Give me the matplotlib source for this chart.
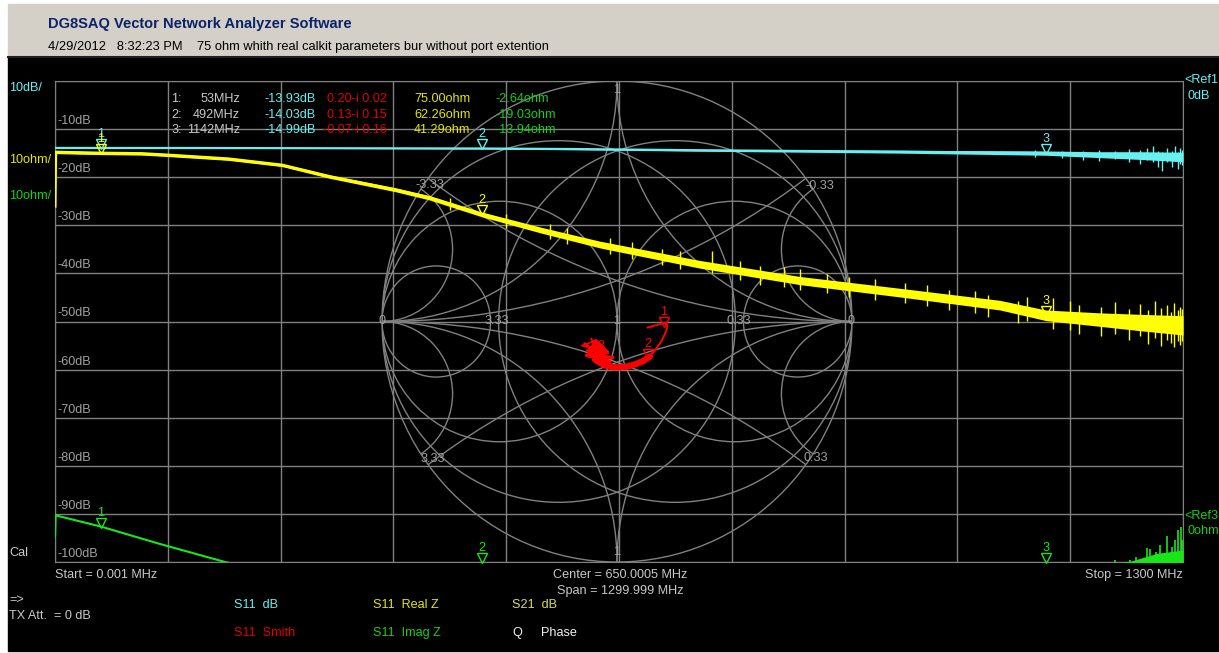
import numpy as np
import matplotlib.pyplot as plt
from matplotlib.patches import Circle, Rectangle
from matplotlib.transforms import offset_copy

plt.rcParams['font.family'] = ['Liberation Sans', 'DejaVu Sans']

W, H = 1219, 653

# sweep
f_start, f_stop = 0.001, 1300

# S11 magnitude (dB), with noise band half-width
s11_f = [0.001, 53, 150, 300, 492, 600, 743, 860, 974, 1089, 1142, 1200, 1250, 1300]
s11_db = [-13.92, -13.93, -13.93, -13.97, -14.03, -14.15, -14.4, -14.55, -14.7, -14.9, -14.99, -15.3, -15.5, -15.8]
s11_spread = [0, 0, 0, 0.05, 0.12, 0.15, 0.2, 0.25, 0.3, 0.4, 0.45, 0.6, 0.8, 1.0]
s11_spike_f = [1130, 1160, 1185, 1203, 1222, 1238, 1250, 1258, 1265, 1271, 1276, 1282, 1287, 1291, 1294, 1297, 1299]
s11_spike_lo = [-15.9, -16.0, -16.4, -16.6, -16.2, -16.9, -17.3, -16.5, -16.8, -17.8, -18.7, -16.9, -17.9, -16.6, -18.3, -17.2, -17.5]
s11_spike_hi = [-14.4, -14.6, -14.5, -14.3, -14.6, -14.1, -14.4, -13.9, -13.5, -14.6, -14.8, -14.0, -14.5, -13.6, -14.7, -13.9, -14.4]

# S11 real part of Z (ohm)
re_f = [0.001, 0.7, 53, 100, 130, 200, 262, 317, 392, 432, 492, 560, 628, 743, 859, 974, 1089, 1142, 1204, 1250, 1300]
re_z = [64, 75.2, 75.0, 74.9, 74.6, 73.8, 72.5, 70.1, 67.4, 65.7, 62.26, 59.0, 56.0, 51.9, 48.5, 46.0, 43.4, 41.29, 40.4, 39.8, 39.2]
re_spread = [0, 0.3, 0.3, 0.3, 0.3, 0.3, 0.3, 0.35, 0.4, 0.45, 0.5, 0.6, 0.7, 0.8, 0.85, 0.9, 1.0, 1.1, 1.4, 1.7, 2.0]
re_spike_f = [455, 520, 570, 590, 640, 665, 700, 720, 757, 790, 812, 840, 859, 890, 915, 945, 980,
              1005, 1030, 1060, 1075, 1110, 1120, 1150, 1170, 1180, 1205, 1222, 1238, 1250, 1260,
              1268, 1275, 1281, 1286, 1290, 1294, 1297, 1299]
re_spike_lo = [63.2, 59.5, 57.2, 56.2, 54.0, 53.0, 51.8, 51.0, 50.0, 48.6, 47.6, 47.2, 46.6, 45.9, 45.1,
               44.5, 43.8, 43.2, 42.4, 41.8, 41.0, 39.6, 40.1, 38.4, 38.2, 37.5, 36.9, 37.4, 36.2, 36.9,
               35.3, 36.6, 35.0, 36.2, 35.6, 34.8, 35.9, 35.2, 36.0]
re_spike_hi = [65.6, 62.4, 60.3, 59.4, 57.4, 56.6, 55.1, 54.7, 54.7, 52.6, 51.5, 51.3, 51.0, 49.9, 49.2,
               48.8, 48.0, 47.6, 46.6, 46.3, 45.6, 44.3, 45.0, 44.8, 44.2, 43.4, 43.0, 44.1, 42.6, 43.6,
               42.4, 44.2, 42.9, 43.5, 42.0, 43.9, 42.4, 43.0, 42.7]

# S11 imaginary part of Z (ohm)
im_f = [0.001, 0.7, 53, 120, 196, 300, 400, 492, 600, 750, 900, 1050, 1142, 1200, 1240, 1270, 1300]
im_z = [-4.8, -0.3, -2.64, -6.2, -10.0, -14.5, -17.8, -19.03, -19.3, -18.8, -17.3, -15.2, -13.94, -12.6, -12.0, -11.0, -10.5]
im_spread = [0, 0, 0, 0, 0, 0.2, 0.3, 0.4, 0.6, 0.8, 1.0, 1.2, 1.4, 1.8, 2.2, 2.8, 3.0]
im_spike_f = [1222, 1239, 1246, 1259, 1262, 1269, 1274, 1282, 1287, 1291, 1294, 1298, 1299]
im_spike_lo = [-12.5, -13.0, -12.8, -13.5, -13.0, -14.0, -13.2, -14.5, -13.8, -14.2, -15.0, -14.0, -13.6]
im_spike_hi = [-9.6, -9.5, -8.9, -7.1, -7.4, -8.0, -6.5, -4.6, -6.8, -5.4, -3.3, -2.7, -5.4]

# S11 reflection coefficient on the Smith chart
gam_re = [0.13, 0.205, 0.213, 0.212, 0.205, 0.19, 0.165, 0.14, 0.11, 0.077, 0.045, 0.013, -0.02, -0.05, -0.075, -0.094]
gam_im = [-0.025, -0.005, -0.015, -0.03, -0.05, -0.08, -0.115, -0.145, -0.165, -0.178, -0.187, -0.19, -0.19, -0.183, -0.17, -0.158]
gam_tail_re = [-0.094, -0.12, -0.07, -0.14, -0.09, -0.11, -0.05, -0.13, -0.08, -0.10, -0.04, -0.15, -0.09, -0.06, -0.12, -0.08, -0.03, -0.10, -0.13, -0.07, -0.02, -0.09]
gam_tail_im = [-0.158, -0.11, -0.14, -0.09, -0.12, -0.07, -0.16, -0.12, -0.10, -0.14, -0.13, -0.10, -0.08, -0.15, -0.13, -0.11, -0.17, -0.12, -0.14, -0.16, -0.15, -0.13]

# markers
marker_f = [53, 492, 1142]
marker_db = [-13.93, -14.03, -14.99]
marker_gam_re = [0.20, 0.13, -0.07]
marker_gam_im = [-0.02, -0.15, -0.16]
marker_re_z = [75.00, 62.26, 41.29]
marker_im_z = [-2.64, -19.03, -13.94]

smith_values = [0.33, 1, 3.33]

CYAN = '#66f0f0'
YEL = '#ffff00'
YEL_T = '#e6e600'
GRN = '#19e619'
GRN_T = '#16d016'
RED = '#ff0000'
RED_T = '#e00000'
GRID = '#808080'
TXT = '#c8c8c8'
FS = 9.1


def px(x, y):
    return x / W, 1 - y / H


def ftext(x, y, s, color=TXT, **kw):
    kw.setdefault('fontsize', FS)
    fig.text(*px(x, y), s, color=color, va='center', **kw)


fig = plt.figure(figsize=(W / 100, H / 100), dpi=100)
fig.patch.set_facecolor('white')
fig.patches.append(Rectangle(px(8, 57), (W - 8) / W, 53 / H, transform=fig.transFigure,
                             color='#d4d0c8', zorder=-10))
fig.patches.append(Rectangle(px(8, 651), (W - 8) / W, 594 / H, transform=fig.transFigure,
                             color='black', zorder=-10))
fig.add_artist(plt.Line2D([8 / W, 1], [1 - 57 / H] * 2, color='#202020', lw=1.5))

# header
ftext(48, 24, 'DG8SAQ Vector Network Analyzer Software', color='#0a246a',
      fontsize=10.5, fontweight='bold')
ftext(48, 47, '4/29/2012   8:32:23 PM    75 ohm whith real calkit parameters bur without port extention',
      color='black', fontsize=9.3)

pos = [55 / W, 1 - 562 / H, 1128 / W, 481 / H]

# rectangular grid (dB scale)
ax = fig.add_axes(pos)
ax.set_facecolor('none')
ax.set_xlim(f_start, f_stop)
ax.set_ylim(-100, 0)
ax.set_xticks(np.linspace(f_start, f_stop, 11))
ax.set_yticks(np.arange(-100, 1, 10))
ax.grid(color=GRID, lw=1)
ax.tick_params(length=0, labelbottom=False, labelleft=False)
for sp in ax.spines.values():
    sp.set_color(GRID)

lbl_t = offset_copy(ax.transData, fig=fig, x=3, y=8, units='dots')
for v in range(-10, -101, -10):
    ax.text(f_start, v, f'{v}dB', transform=lbl_t, color='#a0a0a0',
            fontsize=FS, va='center', ha='left')

# Smith chart overlay
sm = fig.add_axes(pos, zorder=1)
sm.set_xlim(-562 / 235, 566 / 235)
sm.set_ylim(-1, 1)
sm.axis('off')
unit = Circle((0, 0), 1, fill=False, ec=GRID, lw=1)
sm.add_patch(unit)
for v in smith_values:
    rad = 1 / (1 + v)
    for cx in (v / (1 + v), -v / (1 + v)):
        c = Circle((cx, 0), rad, fill=False, ec=GRID, lw=1)
        sm.add_patch(c)
        c.set_clip_path(unit)
    for cx in (1, -1):
        for s in (1, -1):
            c = Circle((cx, s / v), 1 / v, fill=False, ec=GRID, lw=1)
            sm.add_patch(c)
            c.set_clip_path(unit)

smith_labels = [(-1.0, 0, '0'), (-0.51, 0, '3.33'), (0, 0, '1'), (0.52, 0, '0.33'),
                (0.995, 0, '0'), (-0.796, 0.567, '-3.33'), (0.864, 0.563, '-0.33'),
                (-0.783, -0.571, '3.33'), (0.847, -0.567, '0.33'),
                (0, 0.9625, '1'), (0, -0.958, '1')]
for gx, gy, s in smith_labels:
    sm.text(gx, gy, s, color='#a0a0a0', fontsize=FS, ha='center', va='center')

sm.plot(gam_re, gam_im, color=RED, lw=1.4)
sm.plot(gam_re[7:], gam_im[7:], color=RED, lw=4.5, solid_capstyle='round')
sm.plot(gam_tail_re, gam_tail_im, color=RED, lw=1.2)
sm.plot(gam_tail_re[::2], gam_tail_im[::2], color=RED, lw=2.5)

# traces
tr = fig.add_axes(pos, zorder=2)
tr.set_facecolor('none')
tr.set_xlim(f_start, f_stop)
tr.set_ylim(-100, 0)
tr.axis('off')
db = np.array(s11_db)
sp_db = np.array(s11_spread)
tr.fill_between(s11_f, db - sp_db, db + sp_db, color=CYAN, lw=0)
tr.plot(s11_f, s11_db, color=CYAN, lw=1.6)
tr.vlines(s11_spike_f, s11_spike_lo, s11_spike_hi, color=CYAN, lw=1)

axz = fig.add_axes(pos, zorder=3)
axz.set_facecolor('none')
axz.set_xlim(f_start, f_stop)
axz.set_ylim(-10, 90)
axz.axis('off')
rz = np.array(re_z)
rs = np.array(re_spread)
axz.fill_between(re_f, rz - rs, rz + rs, color=YEL, lw=0)
axz.plot(re_f, re_z, color=YEL, lw=2.2)
axz.vlines(re_spike_f, re_spike_lo, re_spike_hi, color=YEL, lw=1)
iz = np.array(im_z)
isp = np.array(im_spread)
axz.fill_between(im_f, iz - isp, iz + isp, color=GRN, lw=0)
axz.plot(im_f, im_z, color=GRN, lw=1.5)
axz.vlines(im_spike_f, im_spike_lo, im_spike_hi, color=GRN, lw=1.2)


def draw_markers(a, xs, ys, color, ylim=None):
    tri = offset_copy(a.transData, fig=fig, x=0, y=4, units='dots')
    num = offset_copy(a.transData, fig=fig, x=0, y=14, units='dots')
    if ylim is not None:
        ys = np.clip(ys, *ylim)
    for i, (x, y) in enumerate(zip(xs, ys), 1):
        a.plot(x, y, marker='v', ms=6.5, mfc='none', mec=color, mew=1, transform=tri,
               clip_on=False)
        a.text(x, y, str(i), color=color, fontsize=FS, ha='center', va='center',
               transform=num, clip_on=False)


draw_markers(tr, marker_f, marker_db, CYAN, (-100, 0))
draw_markers(axz, marker_f, marker_re_z, YEL, (-10, 90))
draw_markers(axz, marker_f, marker_im_z, GRN, (-10, 90))
draw_markers(sm, marker_gam_re, marker_gam_im, RED)

# marker readout
for i in range(3):
    y = 99 + i * 15.5
    ftext(171, y, f'{i + 1}:')
    ftext(240, y, f'{marker_f[i]}MHz', ha='right')
    ftext(316, y, f'{marker_db[i]:.2f}dB', color=CYAN, ha='right')
    ftext(387, y, f'{marker_gam_re[i]:.2f}-i {abs(marker_gam_im[i]):.2f}', color=RED_T, ha='right')
    ftext(414, y, f'{marker_re_z[i]:.2f}ohm', color=YEL_T)
    ftext(495, y, f'{marker_im_z[i]:.2f}ohm', color=GRN_T)

# scale and reference labels
ftext(9, 88, '10dB/', color=CYAN)
ftext(9, 160, '10ohm/', color=YEL_T)
ftext(9, 196, '10ohm/', color=GRN_T)
ftext(9, 553, 'Cal')
ftext(1184, 80, '<Ref1', color=CYAN)
ftext(1188, 96, '0dB', color=CYAN)
ftext(1184, 516, '<Ref3', color=GRN_T)
ftext(1188, 531, '0ohm', color=GRN_T)

# sweep info
ftext(55, 575, 'Start = 0.001 MHz')
ftext(620, 575, 'Center = 650.0005 MHz', ha='center')
ftext(620, 591, 'Span = 1299.999 MHz', ha='center')
ftext(1183, 575, 'Stop = 1300 MHz', ha='right')
ftext(9, 600, '=>')
ftext(9, 616, 'TX Att.  = 0 dB')

# trace legend
ftext(234, 605, 'S11  dB', color=CYAN)
ftext(234, 633, 'S11  Smith', color=RED_T)
ftext(373, 605, 'S11  Real Z', color=YEL_T)
ftext(373, 633, 'S11  Imag Z', color=GRN_T)
ftext(512, 605, 'S21  dB', color='#dcdc5a')
ftext(512, 633, 'Q', color='#f0f0f0')
ftext(541, 633, 'Phase', color='#f0f0f0')

fig.savefig('out.png', dpi=100)
